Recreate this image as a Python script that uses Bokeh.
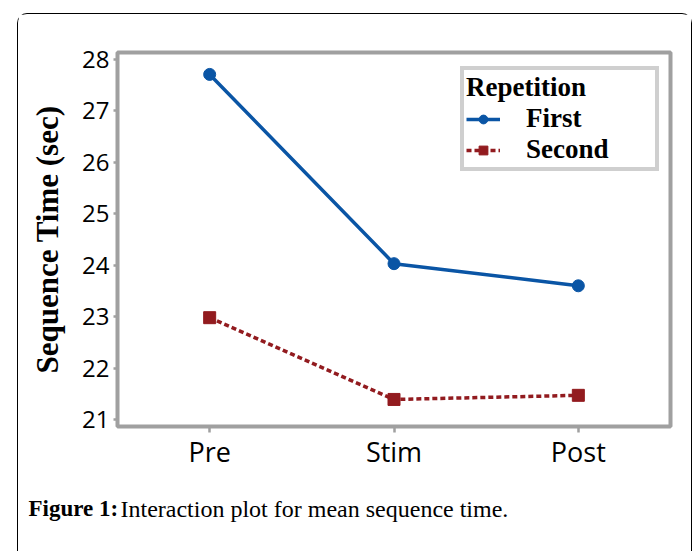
from bokeh.plotting import figure
from bokeh.layouts import column
from bokeh.models import (FactorRange, Range1d, FixedTicker, Legend, LegendItem,
                          Label, ColumnDataSource)
from bokeh.embed import file_html
from bokeh.resources import INLINE

# ---- data ----
phases = ["Pre", "Stim", "Post"]
first_vals = [27.71, 24.03, 23.60]
second_vals = [22.98, 21.39, 21.47]
y_ticks = [21, 22, 23, 24, 25, 26, 27, 28]
series_names = ["First", "Second"]
legend_title = "Repetition"
y_label = "Sequence Time (sec)"
caption_bold = "Figure 1:"
caption_text = "Interaction plot for mean sequence time."

BLUE = "#0A55A5"
RED = "#921B1F"
GRAY = "#A0A0A0"
SERIF = "Liberation Serif"
SANS = "Open Sans"

W, H = 673, 458
p = figure(width=W, height=H, x_range=FactorRange(*phases),
           y_range=Range1d(20.864, 28.136),
           output_backend="svg", toolbar_location=None,
           min_border_left=99, min_border_top=38,
           min_border_right=21, min_border_bottom=45)
p.grid.visible = False
p.outline_line_color = GRAY
p.outline_line_width = 4

src1 = ColumnDataSource(dict(x=phases, y=first_vals))
src2 = ColumnDataSource(dict(x=phases, y=second_vals))

l1 = p.line("x", "y", source=src1, line_color=BLUE, line_width=3.5)
m1 = p.scatter("x", "y", source=src1, marker="circle", size=12,
               fill_color=BLUE, line_color=BLUE)
l2 = p.line("x", "y", source=src2, line_color=RED, line_width=3.5,
            line_dash="5 3")
m2 = p.scatter("x", "y", source=src2, marker="square", size=12,
               fill_color=RED, line_color=RED)

# axes
p.yaxis.ticker = FixedTicker(ticks=y_ticks)
for ax in (p.xaxis[0], p.yaxis[0]):
    ax.axis_line_color = None
    ax.major_tick_line_color = GRAY
    ax.major_tick_line_width = 2.5
    ax.major_tick_in = 0
    ax.minor_tick_line_color = None
    ax.major_label_text_font = SANS
    ax.major_label_text_color = "black"
p.yaxis.major_tick_out = 4
p.yaxis.major_label_standoff = 4
p.yaxis.major_label_text_font_size = "24px"
p.xaxis.major_tick_out = 6
p.xaxis.major_label_standoff = 0
p.xaxis.major_label_text_font_size = "27px"

p.yaxis.axis_label = y_label
p.yaxis.axis_label_text_font = SERIF
p.yaxis.axis_label_text_font_style = "bold"
p.yaxis.axis_label_text_font_size = "31px"
p.yaxis.axis_label_text_color = "black"
p.yaxis.axis_label_standoff = 14

legend = Legend(items=[LegendItem(label=series_names[0], renderers=[l1, m1]),
                       LegendItem(label=series_names[1], renderers=[l2, m2])],
                location=(343, 255), title=legend_title,
                title_text_font=SERIF, title_text_font_style="bold",
                title_text_font_size="27px", title_text_color="black",
                title_standoff=0,
                label_text_font=SERIF, label_text_font_style="bold",
                label_text_font_size="27px", label_text_color="black",
                label_height=24, label_width=127,
                glyph_width=34, glyph_height=22, label_standoff=26,
                spacing=0, padding=2, margin=0,
                border_line_color=GRAY, border_line_width=4,
                background_fill_color="white", background_fill_alpha=1)
p.add_layout(legend)

# caption panel (SVG text)
cap = figure(width=W, height=79, x_axis_type=None, y_axis_type=None,
             output_backend="svg", toolbar_location=None,
             min_border=0, outline_line_color=None)
if "frame_align" in cap.properties():
    cap.frame_align = False
cap.add_layout(Label(x=10, y=43, x_units="screen", y_units="screen",
                     text=caption_bold, text_font=SERIF, text_font_style="bold",
                     text_font_size="23px", text_color="black",
                     text_baseline="alphabetic"))
cap.add_layout(Label(x=102, y=43, x_units="screen", y_units="screen",
                     text=caption_text, text_font=SERIF,
                     text_font_size="24px", text_color="black",
                     text_baseline="alphabetic"))

page = column(p, cap, spacing=0, margin=(13, 0, 0, 17),
              styles={"border-top": "1.5px solid black",
                      "border-left": "1.5px solid black",
                      "border-right": "1.5px solid black",
                      "border-top-left-radius": "10px",
                      "border-top-right-radius": "10px"})

open("out.html", "w").write(file_html(page, INLINE))
